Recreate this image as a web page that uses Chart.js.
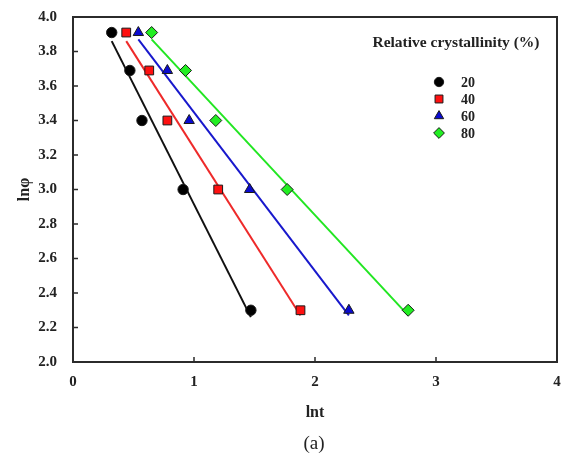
<!DOCTYPE html>
<html>
<head>
<meta charset="utf-8">
<script src="https://cdn.jsdelivr.net/npm/chart.js@4.4.1/dist/chart.umd.min.js"></script>
<style>
  html, body { margin: 0; padding: 0; background: #fff; }
  #wrap { width: 566px; height: 461px; }
</style>
</head>
<body>
<div id="wrap"><canvas id="chart" width="566" height="461"></canvas></div>
<script>
// --- Data ---
const lnPhi = [3.91, 3.69, 3.40, 3.00, 2.30];
const lnt20 = [0.32, 0.47, 0.57, 0.91, 1.47];
const lnt40 = [0.44, 0.63, 0.78, 1.20, 1.88];
const lnt60 = [0.54, 0.78, 0.96, 1.46, 2.28];
const lnt80 = [0.65, 0.93, 1.18, 1.77, 2.77];

// fitted lines (start / end)
const fitX20 = [0.32, 1.47], fitY20 = [3.86, 2.26];
const fitX40 = [0.44, 1.88], fitY40 = [3.86, 2.27];
const fitX60 = [0.54, 2.28], fitY60 = [3.87, 2.27];
const fitX80 = [0.65, 2.77], fitY80 = [3.87, 2.27];

const crystLabels = ['20', '40', '60', '80'];
const xTicks = [0, 1, 2, 3, 4];
const yTicks = [2.0, 2.2, 2.4, 2.6, 2.8, 3.0, 3.2, 3.4, 3.6, 3.8, 4.0];

const SERIF = "'Liberation Serif', 'Times New Roman', serif";

const series = [
  { x: lnt20, fx: fitX20, fy: fitY20, style: 'circle',   r: 5.2, fill: '#000000', line: '#111111' },
  { x: lnt40, fx: fitX40, fy: fitY40, style: 'rect',     r: 6.2, fill: '#ff1010', line: '#ee2a2a' },
  { x: lnt60, fx: fitX60, fy: fitY60, style: 'triangle', r: 6.0, fill: '#0a0ad0', line: '#1818cc' },
  { x: lnt80, fx: fitX80, fy: fitY80, style: 'rectRot',  r: 6.0, fill: '#22ee22', line: '#22e622' }
];

const pairs = (xs, ys) => xs.map((v, i) => ({ x: v, y: ys[i] }));

const datasets = [];
series.forEach((s, i) => {
  datasets.push({
    label: crystLabels[i] + ' fit',
    data: pairs(s.fx, s.fy),
    showLine: true,
    borderColor: s.line,
    borderWidth: 2,
    pointRadius: 0,
    order: 2
  });
  datasets.push({
    label: crystLabels[i],
    data: pairs(s.x, lnPhi),
    showLine: false,
    pointStyle: s.style,
    pointRadius: s.r,
    pointHoverRadius: s.r,
    backgroundColor: s.fill,
    borderColor: '#1a1a1a',
    pointBorderWidth: 1,
    order: 1
  });
});

// frame, inward ticks, titles and legend
const decor = {
  id: 'decor',
  afterDraw(chart) {
    const { ctx, chartArea: a, scales } = chart;
    ctx.save();
    ctx.strokeStyle = '#2b2b2b';
    ctx.lineWidth = 2;
    ctx.strokeRect(a.left, a.top, a.right - a.left, a.bottom - a.top);

    ctx.lineWidth = 1.5;
    ctx.beginPath();
    yTicks.slice(1, -1).forEach(v => {
      const y = scales.y.getPixelForValue(v);
      ctx.moveTo(a.left, y);
      ctx.lineTo(a.left + 5, y);
    });
    xTicks.slice(1, -1).forEach(v => {
      const x = scales.x.getPixelForValue(v);
      ctx.moveTo(x, a.bottom);
      ctx.lineTo(x, a.bottom - 5);
    });
    ctx.stroke();

    ctx.fillStyle = '#222';
    ctx.textAlign = 'center';
    ctx.textBaseline = 'middle';
    ctx.font = 'bold 16px ' + SERIF;
    ctx.fillText('lnt', (a.left + a.right) / 2, 413);

    ctx.save();
    ctx.translate(25, (a.top + a.bottom) / 2);
    ctx.rotate(-Math.PI / 2);
    ctx.fillText('ln\u03c6', 0, 0);
    ctx.restore();

    ctx.font = '19px ' + SERIF;
    ctx.fillText('(a)', 314, 444);

    // legend
    ctx.font = 'bold 15.5px ' + SERIF;
    ctx.fillText('Relative crystallinity (%)', 456, 43);
    ctx.font = 'bold 14px ' + SERIF;
    ctx.textAlign = 'left';
    const rows = [82, 99, 116, 133];
    series.forEach((s, i) => {
      ctx.fillStyle = s.fill;
      ctx.strokeStyle = '#1a1a1a';
      ctx.lineWidth = 1;
      Chart.helpers.drawPoint(ctx, { pointStyle: s.style, radius: s.r * 0.9, borderWidth: 1, rotation: 0 }, 439, rows[i]);
      ctx.fillStyle = '#222';
      ctx.fillText(crystLabels[i], 461, rows[i] + 1);
    });
    ctx.restore();
  }
};

new Chart(document.getElementById('chart'), {
  type: 'scatter',
  data: { datasets },
  plugins: [decor],
  options: {
    responsive: false,
    devicePixelRatio: 1,
    animation: false,
    layout: { padding: { top: 13, right: 9, left: 0, bottom: 0 } },
    plugins: { legend: { display: false }, tooltip: { enabled: false } },
    scales: {
      x: {
        type: 'linear',
        min: 0,
        max: 4,
        afterFit: s => { s.height = 99; },
        afterBuildTicks: s => { s.ticks = xTicks.map(v => ({ value: v })); },
        grid: { display: false },
        border: { display: false },
        ticks: {
          padding: 3,
          color: '#222',
          font: { family: SERIF, size: 15, weight: 'bold' },
          callback: v => String(v)
        }
      },
      y: {
        type: 'linear',
        min: 2,
        max: 4,
        afterFit: s => { s.width = 73; },
        afterBuildTicks: s => { s.ticks = yTicks.map(v => ({ value: v })); },
        grid: { display: false },
        border: { display: false },
        ticks: {
          padding: 8,
          color: '#222',
          font: { family: SERIF, size: 15, weight: 'bold' },
          callback: v => Number(v).toFixed(1)
        }
      }
    }
  }
});
</script>
</body>
</html>
